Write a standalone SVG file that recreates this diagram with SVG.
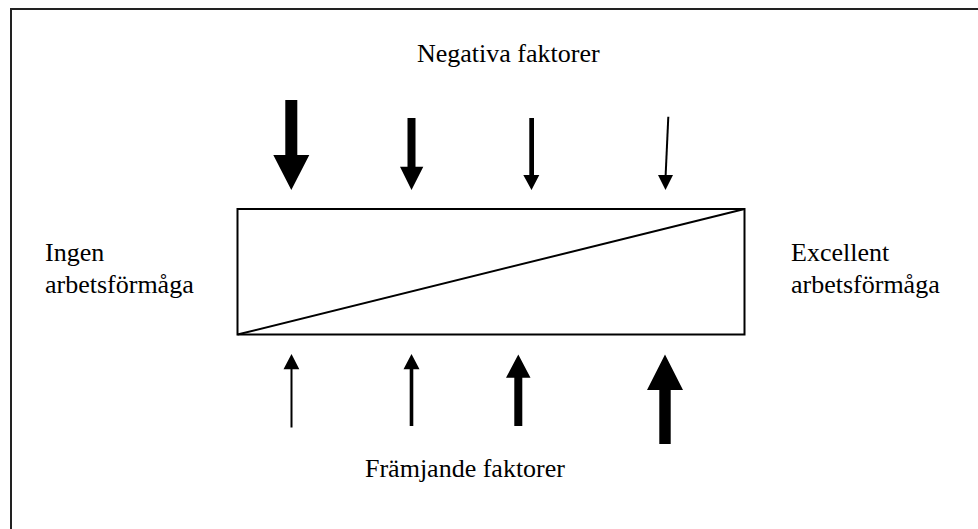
<svg xmlns="http://www.w3.org/2000/svg" width="978" height="529" viewBox="0 0 978 529">
<style>
.lbl{font-size:26px;fill:#000}
.arr{fill:#000;stroke:none}
.frame{fill:none;stroke:#222;stroke-width:2}
</style>
<rect x="0" y="0" width="978" height="529" fill="#fff"/>
<g id="frame">
<polyline class="frame" points="11,529 11,9 978,9"/>
</g>
<g id="scale-box">
<rect x="237.5" y="209" width="507" height="125.5" fill="none" stroke="#000" stroke-width="2"/>
<line x1="237.5" y1="334.5" x2="744.5" y2="209" stroke="#000" stroke-width="2"/>
</g>
<g font-family="Liberation Serif, Times New Roman, serif">
<g id="label-negativa"><text class="lbl" x="417" y="62">Negativa faktorer</text></g>
<g id="label-framjande"><text class="lbl" x="365" y="477">Främjande faktorer</text></g>
<g id="label-ingen"><text class="lbl" x="45" y="261">Ingen</text><text class="lbl" x="45" y="293">arbetsförmåga</text></g>
<g id="label-excellent"><text class="lbl" x="791" y="261">Excellent</text><text class="lbl" x="791" y="293">arbetsförmåga</text></g>
</g>
<g id="connectors">
<polygon class="arr" points="285.3,100 297.3,100 297.3,155 309.3,155 291.3,190 273.3,155 285.3,155"/>
<polygon class="arr" points="407.5,118 415.5,118 415.5,166.7 423.3,166.7 411.5,190 400,166.7 407.5,166.7"/>
<polygon class="arr" points="529.3,118 534,118 534,175 539.3,175 531.5,190 523.3,175 529.3,175"/>
<line x1="668.3" y1="116.7" x2="665.6" y2="176" stroke="#000" stroke-width="2"/>
<polygon class="arr" points="658,175 673,175 665.5,190"/>
<polygon class="arr" points="291.5,354 299.3,369.3 292.5,369.3 292.5,427.5 290.5,427.5 290.5,369.3 283.5,369.3"/>
<polygon class="arr" points="411.5,354 419.5,369.3 413.3,369.3 413.3,426 409.7,426 409.7,369.3 403.5,369.3"/>
<polygon class="arr" points="518.3,354.5 530.5,377.7 522.3,377.7 522.3,426 514.3,426 514.3,377.7 506,377.7"/>
<polygon class="arr" points="665,354.5 683,390 670.7,390 670.7,444 659.3,444 659.3,390 647,390"/>
</g>
</svg>
